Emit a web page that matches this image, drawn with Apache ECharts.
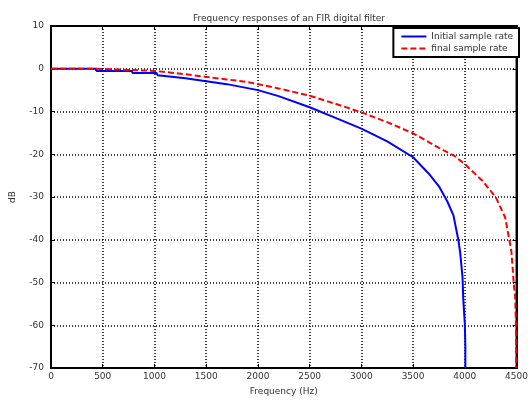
<!DOCTYPE html>
<html>
<head>
<meta charset="utf-8">
<script src="https://cdn.jsdelivr.net/npm/echarts@6/dist/echarts.min.js"></script>
<style>
  html, body { margin: 0; padding: 0; background: #fff; }
  #chart { width: 531px; height: 401px; }
</style>
</head>
<body>
<div id="chart"></div>
<script>
// values
var xTicks = [0, 500, 1000, 1500, 2000, 2500, 3000, 3500, 4000, 4500]
var yTicks = [10, 0, -10, -20, -30, -40, -50, -60, -70]

var initFreq = [0, 430, 440, 780, 790, 1020, 1030, 1300, 1500, 1700, 2000, 2200, 2500, 2750, 3000, 3250, 3500, 3650, 3750, 3830, 3890, 3937, 3955, 3978, 3985, 4000, 4005, 4005]
var initDb = [0, 0, -0.5, -0.5, -1.0, -1.0, -1.5, -2.2, -2.9, -3.6, -5.0, -6.4, -9.0, -11.5, -14.0, -17.0, -20.7, -24.5, -27.5, -31, -34.3, -40, -43, -48.8, -54, -59.6, -65, -70]

var finalFreq = [0, 440, 450, 1000, 1010, 1300, 1500, 1700, 1900, 2000, 2200, 2500, 2750, 3000, 3250, 3500, 3750, 3900, 4000, 4170, 4300, 4390, 4430, 4450, 4462, 4472, 4487, 4494, 4497]
var finalDb = [0, 0, -0.4, -0.5, -0.9, -1.3, -1.9, -2.5, -3.1, -3.6, -4.6, -6.3, -8.2, -10.2, -12.5, -15.1, -18.5, -20.4, -22.3, -26.2, -30.1, -34.8, -40, -42.7, -46.5, -50, -53.5, -60, -70]

function zip(a, b) {
  var out = []
  for (var i = 0; i < a.length; i++) out.push([a[i], b[i]])
  return out
}

var font = '"DejaVu Sans", Arial, sans-serif'
var txt = '#333'
var chart = echarts.init(document.getElementById('chart'))

var option = {
  animation: false,
  backgroundColor: '#fff',
  title: {
    text: 'Frequency responses of an FIR digital filter',
    left: 284,
    top: 9,
    textAlign: 'center',
    textStyle: { fontFamily: font, fontSize: 9, fontWeight: 'normal', color: txt }
  },
  legend: {
    orient: 'vertical',
    right: 12,
    top: 28,
    backgroundColor: '#fff',
    borderColor: '#000',
    borderWidth: 2,
    borderRadius: 0,
    padding: [4, 6, 4, 7],
    itemWidth: 25,
    itemHeight: 8,
    itemGap: 3,
    itemStyle: { opacity: 0 },
    textStyle: { fontFamily: font, fontSize: 9, color: txt },
    data: ['Initial sample rate', 'final sample rate']
  },
  grid: {
    left: 49,
    right: 12,
    top: 26,
    bottom: 32,
    show: true,
    borderColor: '#000',
    borderWidth: 2
  },
  xAxis: [
    {
      type: 'value',
      min: 0,
      max: 4500,
      interval: 500,
      name: 'Frequency (Hz)',
      nameLocation: 'middle',
      nameGap: 19,
      nameTextStyle: { fontFamily: font, fontSize: 9, color: txt },
      axisLine: { onZero: false, lineStyle: { color: '#000', width: 2 } },
      axisTick: { inside: true, length: 4, lineStyle: { color: '#000' } },
      axisLabel: {
        fontFamily: font, fontSize: 9, color: txt, margin: 4,
        formatter: function (v) { return xTicks.indexOf(v) >= 0 ? String(v) : '' }
      },
      splitLine: { show: true, lineStyle: { color: '#000', type: [1, 2], width: 1.5 } }
    },
    {
      type: 'value',
      position: 'top',
      min: 0,
      max: 4500,
      interval: 500,
      axisLine: { onZero: false, lineStyle: { color: '#000', width: 2 } },
      axisTick: { inside: true, length: 4, lineStyle: { color: '#000' } },
      axisLabel: { show: false },
      splitLine: { show: false }
    }
  ],
  yAxis: [
    {
      type: 'value',
      min: -70,
      max: 10,
      interval: 10,
      name: 'dB',
      nameLocation: 'middle',
      nameGap: 34,
      nameRotate: 90,
      nameTextStyle: { fontFamily: font, fontSize: 9, color: txt },
      axisLine: { show: true, onZero: false, lineStyle: { color: '#000', width: 2 } },
      axisTick: { show: true, inside: true, length: 4, lineStyle: { color: '#000' } },
      axisLabel: {
        fontFamily: font, fontSize: 9, color: txt, margin: 7,
        formatter: function (v) { return yTicks.indexOf(v) >= 0 ? String(v) : '' }
      },
      splitLine: { show: true, lineStyle: { color: '#000', type: [1, 2], width: 1.5 } }
    },
    {
      type: 'value',
      position: 'right',
      min: -70,
      max: 10,
      interval: 10,
      axisLine: { show: true, onZero: false, lineStyle: { color: '#000', width: 2 } },
      axisTick: { show: true, inside: true, length: 4, lineStyle: { color: '#000' } },
      axisLabel: { show: false },
      splitLine: { show: false }
    }
  ],
  series: [
    {
      name: 'Initial sample rate',
      type: 'line',
      showSymbol: false,
      symbol: 'none',
      color: '#0000ff',
      lineStyle: { color: '#0000ff', width: 2 },
      data: zip(initFreq, initDb)
    },
    {
      name: 'final sample rate',
      type: 'line',
      showSymbol: false,
      symbol: 'none',
      color: '#ff0000',
      lineStyle: { color: '#ff0000', width: 2, type: [6, 3] },
      data: zip(finalFreq, finalDb)
    }
  ]
}

chart.setOption(option)
</script>
</body>
</html>
